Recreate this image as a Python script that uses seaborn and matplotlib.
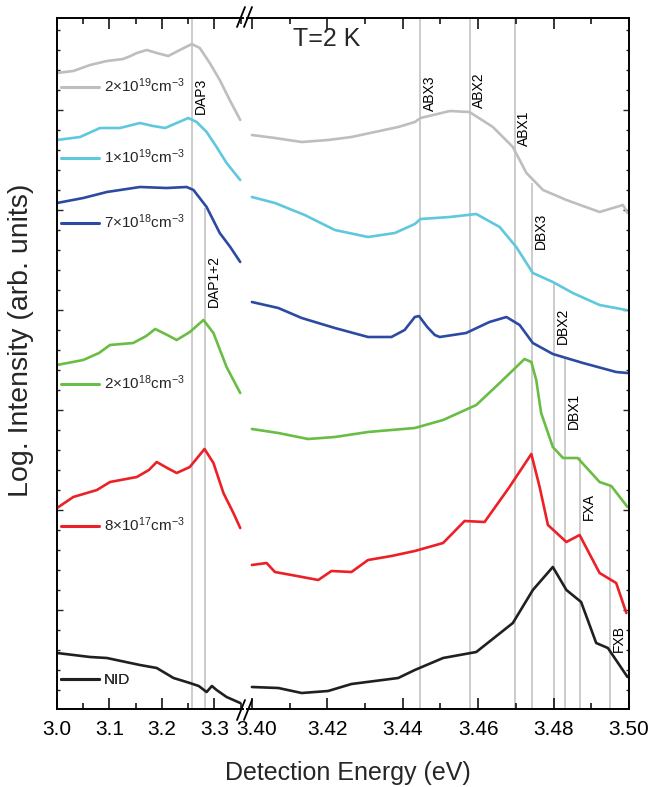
import matplotlib
matplotlib.use("Agg")
import matplotlib.pyplot as plt
from matplotlib.lines import Line2D
from matplotlib.ticker import MultipleLocator, FixedLocator
from matplotlib.transforms import ScaledTranslation
import seaborn as sns

# ---- data: energy (eV) and offset log intensity (arb.) ----
# sample labels / colours, top to bottom
labels = ['2×10$^{\\mathregular{19}}$cm$^{\\mathregular{-3}}$',
          '1×10$^{\\mathregular{19}}$cm$^{\\mathregular{-3}}$',
          '7×10$^{\\mathregular{18}}$cm$^{\\mathregular{-3}}$',
          '2×10$^{\\mathregular{18}}$cm$^{\\mathregular{-3}}$',
          '8×10$^{\\mathregular{17}}$cm$^{\\mathregular{-3}}$',
          'NID']
colors = ['#bebebe', '#5ec8dc', '#2c4aa2', '#69bd45', '#ec2027', '#231f20']

# low energy part (DAP region)
gray_lo_e = [3.000, 3.031, 3.063, 3.095, 3.126, 3.140, 3.152, 3.171, 3.190, 3.212, 3.234, 3.257, 3.272, 3.291,
             3.310, 3.329, 3.349]
gray_lo_v = [637, 639, 645, 649, 651, 654, 657, 660, 657, 654, 660, 666, 662, 647, 630, 610, 590]
cyan_lo_e = [3.000, 3.044, 3.082, 3.120, 3.158, 3.183, 3.206, 3.228, 3.250, 3.266, 3.285, 3.304, 3.323, 3.349]
cyan_lo_v = [570, 573, 582, 582, 587, 584, 582, 587, 592, 588, 578, 563, 547, 530]
blue_lo_e = [3.000, 3.050, 3.095, 3.158, 3.209, 3.247, 3.260, 3.285, 3.310, 3.330, 3.349]
blue_lo_v = [507, 512, 518, 523, 522, 523, 520, 503, 477, 463, 448]
green_lo_e = [3.000, 3.050, 3.080, 3.101, 3.145, 3.170, 3.187, 3.210, 3.228, 3.253, 3.279, 3.298, 3.323, 3.349]
green_lo_v = [345, 350, 357, 365, 367, 374, 381, 375, 370, 378, 390, 377, 343, 317]
red_lo_e = [3.000, 3.031, 3.076, 3.101, 3.152, 3.175, 3.190, 3.210, 3.228, 3.253, 3.281, 3.298, 3.317, 3.336,
            3.349]
red_lo_v = [202, 213, 220, 228, 233, 240, 248, 242, 237, 243, 261, 247, 217, 197, 182]
black_lo_e = [3.000, 3.063, 3.095, 3.158, 3.190, 3.222, 3.253, 3.270, 3.285, 3.295, 3.304, 3.323, 3.349]
black_lo_v = [57, 53, 52, 45, 42, 32, 27, 24, 18, 24, 20, 13, 7]

# high energy part (excitonic region)
gray_hi_e = [3.400, 3.4061, 3.4132, 3.4202, 3.4264, 3.4326, 3.4388, 3.4432, 3.4447, 3.4525, 3.4577, 3.4639,
             3.4692, 3.4728, 3.4772, 3.4834, 3.4922, 3.4984, 3.4996]
gray_hi_v = [575, 572, 568, 570, 573, 578, 583, 588, 592, 599, 598, 583, 563, 537, 520, 510, 498, 505, 497]
cyan_hi_e = [3.400, 3.4061, 3.4140, 3.4220, 3.4308, 3.4379, 3.4432, 3.4447, 3.4525, 3.4595, 3.4657, 3.4701,
             3.4745, 3.4798, 3.4851, 3.4922, 3.4993]
cyan_hi_v = [513, 507, 495, 480, 473, 477, 486, 491, 493, 496, 483, 463, 437, 428, 417, 405, 400]
blue_hi_e = [3.400, 3.4070, 3.4132, 3.4220, 3.4308, 3.4370, 3.4405, 3.4432, 3.4443, 3.4465, 3.4485, 3.4498,
             3.4568, 3.4630, 3.4675, 3.4710, 3.4745, 3.4798, 3.4878, 3.4966, 3.4996]
blue_hi_v = [408, 402, 392, 382, 373, 373, 380, 393, 394, 383, 375, 373, 377, 388, 393, 385, 367, 356, 347, 338, 337]
green_hi_e = [3.400, 3.4070, 3.4149, 3.4220, 3.4308, 3.4432, 3.4507, 3.4595, 3.4657, 3.4723, 3.4741, 3.4754,
              3.4767, 3.4798, 3.4825, 3.4864, 3.4922, 3.4953, 3.4996]
green_hi_v = [281, 277, 271, 273, 278, 282, 290, 305, 327, 351, 348, 330, 297, 263, 252, 252, 228, 224, 203]
red_hi_e = [3.400, 3.4039, 3.4061, 3.4105, 3.4176, 3.4211, 3.4264, 3.4308, 3.4370, 3.4432, 3.4507, 3.4564,
            3.4617, 3.4683, 3.4741, 3.4763, 3.4785, 3.4834, 3.4869, 3.4922, 3.4966, 3.4993]
red_hi_v = [145, 147, 138, 135, 130, 139, 138, 150, 154, 159, 167, 189, 188, 223, 256, 223, 185, 168, 175,
            137, 127, 97]
black_hi_e = [3.400, 3.4070, 3.4132, 3.4202, 3.4264, 3.4326, 3.4388, 3.4432, 3.4507, 3.4595, 3.4692, 3.4745,
              3.4798, 3.4834, 3.4873, 3.4913, 3.4944, 3.4996]
black_hi_v = [23, 22, 17, 19, 26, 29, 32, 40, 52, 58, 87, 120, 143, 120, 108, 67, 62, 33]

lo_e = [gray_lo_e, cyan_lo_e, blue_lo_e, green_lo_e, red_lo_e, black_lo_e]
lo_v = [gray_lo_v, cyan_lo_v, blue_lo_v, green_lo_v, red_lo_v, black_lo_v]
hi_e = [gray_hi_e, cyan_hi_e, blue_hi_e, green_hi_e, red_hi_e, black_hi_e]
hi_v = [gray_hi_v, cyan_hi_v, blue_hi_v, green_hi_v, red_hi_v, black_hi_v]

# transition markers
mark_names = ['DAP3', 'DAP1+2', 'ABX3', 'ABX2', 'ABX1', 'DBX3', 'DBX2', 'DBX1', 'FXA', 'FXB']
mark_e = [3.2566, 3.281, 3.4447, 3.4578, 3.4698, 3.4742, 3.4801, 3.4831, 3.4869, 3.4950]
mark_top = [692, 502, 692, 692, 692, 527, 428, 353, 253, 225]
mark_text_v = [614, 429, 617, 620, 582, 479, 384, 299, 204, 72]

# ---- style ----
sns.set_theme(style="ticks")
plt.rcParams['font.family'] = ['Liberation Sans', 'DejaVu Sans']
plt.rcParams['mathtext.fontset'] = 'custom'
plt.rcParams['mathtext.rm'] = 'Liberation Sans'
plt.rcParams['mathtext.it'] = 'Liberation Sans:italic'

W, H = 651, 787
fig = plt.figure(figsize=(W / 100, H / 100), dpi=100)
bot = 1 - 709 / H
hgt = (709 - 18) / H
ax1 = fig.add_axes([57 / W, bot, 186 / W, hgt])
ax2 = fig.add_axes([247 / W, bot, 382 / W, hgt])

for i in range(6):
    sns.lineplot(x=lo_e[i], y=lo_v[i], ax=ax1, color=colors[i], lw=1.9, sort=False, estimator=None)
    sns.lineplot(x=hi_e[i], y=hi_v[i], ax=ax2, color=colors[i], lw=1.9, sort=False, estimator=None)

ax1.set_xlim(3.0, 3.3543)
ax2.set_xlim(3.3987, 3.50)
for ax in (ax1, ax2):
    ax.set_ylim(1, 692)
    ax.set_xlabel('')
    ax.set_ylabel('')
    for s in ax.spines.values():
        s.set_linewidth(1.4)
        s.set_color('black')
    ax.tick_params(axis='x', which='both', direction='in', top=True, bottom=True,
                   labelsize=15, pad=8, width=1.1, colors='black')
    ax.tick_params(axis='x', which='major', length=8)
    ax.tick_params(axis='x', which='minor', length=4.5)
    ax.tick_params(axis='y', which='both', direction='in', labelleft=False, labelright=False, width=1)
    ax.tick_params(axis='y', which='major', length=4)
    ax.tick_params(axis='y', which='minor', length=2.5)
    ax.yaxis.set_major_locator(MultipleLocator(100))
    ax.yaxis.set_minor_locator(MultipleLocator(20))

ax1.spines['right'].set_visible(False)
ax2.spines['left'].set_visible(False)
ax1.tick_params(axis='y', which='both', left=True, right=False)
ax2.tick_params(axis='y', which='both', left=False, right=True)
ax1.xaxis.set_major_locator(FixedLocator([3.0, 3.1, 3.2, 3.3]))
ax1.xaxis.set_minor_locator(FixedLocator([3.05, 3.15, 3.25, 3.35]))
ax1.set_xticklabels(['3.0', '3.1', '3.2', '3.3'])
ax2.xaxis.set_major_locator(FixedLocator([3.40, 3.42, 3.44, 3.46, 3.48, 3.50]))
ax2.xaxis.set_minor_locator(FixedLocator([3.41, 3.43, 3.45, 3.47, 3.49]))
ax2.set_xticklabels(['3.40', '3.42', '3.44', '3.46', '3.48', '3.50'])
# nudge "3.40" a bit right so it clears "3.3"
first = ax2.get_xticklabels()[0]
first.set_transform(first.get_transform() + ScaledTranslation(0.05, 0, fig.dpi_scale_trans))

# transition lines and their names
for name, e, top, tv in zip(mark_names, mark_e, mark_top, mark_text_v):
    ax = ax1 if e < 3.36 else ax2
    ax.vlines(e, 1, top, color='#c8c8c8', lw=1.3, zorder=0)
    ax.annotate(name, xy=(e, tv), xytext=(6.5, 0), textcoords='offset points',
                rotation=90, ha='center', va='center', fontsize=10, color='black')

# sample labels next to each curve
leg_y = [86, 157, 222, 383, 525, 680]
for lab, col, yp in zip(labels, colors, leg_y):
    h = Line2D([], [], color=col, lw=2.2)
    lg = ax1.legend([h], [lab], loc='center left', bbox_to_anchor=(4 / 186, (709 - yp) / 691),
                    frameon=False, fontsize=11, handlelength=2.5, handletextpad=0.3,
                    borderpad=0, borderaxespad=0)
    ax1.add_artist(lg)

# axis break marks
for yc in (17, 710):
    for xc in (241, 248):
        fig.add_artist(Line2D([(xc - 4) / W, (xc + 4) / W], [1 - (yc + 10) / H, 1 - (yc - 10) / H],
                              color='black', lw=1.3, transform=fig.transFigure))

fig.text(327 / W, 1 - 39 / H, 'T=2 K', ha='center', va='center', fontsize=18)
fig.text(348 / W, 1 - 773 / H, 'Detection Energy (eV)', ha='center', va='center', fontsize=18)
fig.text(21 / W, 1 - 340 / H, 'Log. Intensity (arb. units)', ha='center', va='center',
         rotation=90, fontsize=20.5)

fig.savefig('out.png', dpi=100)
